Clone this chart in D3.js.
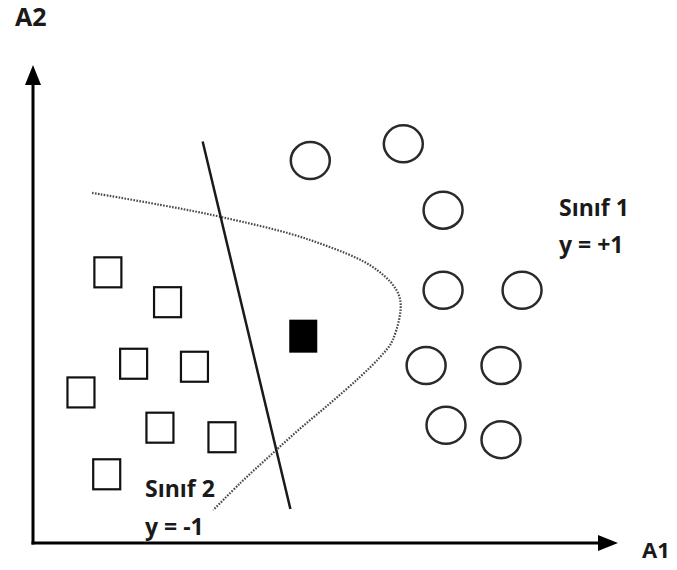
<!DOCTYPE html>
<html>
  <head>
    <script src="https://d3js.org/d3.v7.min.js"></script>
    <style>
      body { margin: 0; background: #fff; }
      .lbl { font-family: "Open Sans", "Noto Sans", sans-serif; font-weight: bold; fill: #1a1a1a; }
    </style>
  </head>
  <body>
    <svg id="my_dataviz" width="677" height="570"></svg>
    <script>
      // class -1 points (squares), in A1/A2 units
      const squareA1 = [1.28, 2.30, 1.72, 2.76, 0.82, 2.17, 3.23, 1.26];
      const squareA2 = [4.53, 4.03, 3.00, 2.95, 2.52, 1.93, 1.77, 1.15];
      // class +1 points (circles)
      const circleA1 = [4.74, 6.33, 7.01, 7.01, 8.36, 6.72, 8.00, 7.06, 8.00];
      const circleA2 = [6.40, 6.68, 5.57, 4.23, 4.23, 2.97, 2.97, 1.97, 1.73];
      // unknown sample
      const newA1 = [4.62];
      const newA2 = [3.47];
      // linear separator end points
      const lineA1 = [2.90, 4.40];
      const lineA2 = [6.72, 0.57];
      // non-linear (dotted) boundary
      const curveA1 = [1.01, 2.17, 3.20, 4.74, 5.88, 6.27, 6.15, 5.93, 5.59, 5.08, 4.56, 4.05, 3.54, 3.08];
      const curveA2 = [5.86, 5.66, 5.46, 5.07, 4.57, 4.10, 3.40, 3.11, 2.78, 2.34, 1.91, 1.46, 1.00, 0.55];
      const axisNames = ["A1", "A2"];
      const classNames = ["Sınıf 1", "y = +1", "Sınıf 2", "y = -1"];

      const svg = d3.select("#my_dataviz");

      let x = d3.scaleLinear().domain([0, 10]).range([33, 618]);
      let y = d3.scaleLinear().domain([0, 8]).range([543, 65]);

      // axes with arrow heads
      svg.append("line")
        .attr("x1", x(0)).attr("y1", y(0) + 1.5)
        .attr("x2", x(0)).attr("y2", y(8) + 16)
        .attr("stroke", "#000").attr("stroke-width", 3);
      svg.append("line")
        .attr("x1", x(0) - 1.5).attr("y1", y(0))
        .attr("x2", x(10) - 16).attr("y2", y(0))
        .attr("stroke", "#000").attr("stroke-width", 3);
      svg.append("path")
        .attr("d", `M${x(0)},${y(8)} L${x(0) - 8},${y(8) + 20} L${x(0) + 8},${y(8) + 20} Z`)
        .attr("fill", "#000");
      svg.append("path")
        .attr("d", `M${x(10)},${y(0)} L${x(10) - 20},${y(0) - 8} L${x(10) - 20},${y(0) + 8} Z`)
        .attr("fill", "#000");

      svg.append("text").attr("class", "lbl")
        .attr("x", 15).attr("y", 26)
        .style("font-size", "25px")
        .text(axisNames[1]);
      svg.append("text").attr("class", "lbl")
        .attr("x", 642).attr("y", 558)
        .style("font-size", "22px")
        .text(axisNames[0]);

      // dotted boundary
      let curvePts = curveA1.map((d, i) => [x(d), y(curveA2[i])]);
      svg.append("path")
        .attr("d", d3.line().curve(d3.curveCatmullRom.alpha(0.5))(curvePts))
        .attr("fill", "none")
        .attr("stroke", "#4a4a4a")
        .attr("stroke-width", 2.2)
        .attr("stroke-dasharray", "1.6,1.4");

      // straight separator
      svg.append("line")
        .attr("x1", x(lineA1[0])).attr("y1", y(lineA2[0]))
        .attr("x2", x(lineA1[1])).attr("y2", y(lineA2[1]))
        .attr("stroke", "#1a1a1a").attr("stroke-width", 2.5);

      // squares
      svg.selectAll("rect.sq")
        .data(squareA1.map((d, i) => [d, squareA2[i]]))
        .join("rect")
          .attr("class", "sq")
          .attr("x", d => x(d[0]) - 13.5)
          .attr("y", d => y(d[1]) - 15)
          .attr("width", 27)
          .attr("height", 30)
          .attr("fill", "none")
          .attr("stroke", "#111")
          .attr("stroke-width", 2.2);

      // unknown point
      svg.selectAll("rect.new")
        .data(newA1.map((d, i) => [d, newA2[i]]))
        .join("rect")
          .attr("class", "new")
          .attr("x", d => x(d[0]) - 14)
          .attr("y", d => y(d[1]) - 16)
          .attr("width", 28)
          .attr("height", 33)
          .attr("fill", "#000");

      // circles
      svg.selectAll("ellipse")
        .data(circleA1.map((d, i) => [d, circleA2[i]]))
        .join("ellipse")
          .attr("cx", d => x(d[0]))
          .attr("cy", d => y(d[1]))
          .attr("rx", 19.5)
          .attr("ry", 18.5)
          .attr("fill", "none")
          .attr("stroke", "#2a2a2a")
          .attr("stroke-width", 2.5);

      // class labels
      const labelPos = [[559, 216], [559, 253], [145, 497], [145, 535]];
      svg.selectAll("text.cls")
        .data(classNames)
        .join("text")
          .attr("class", "lbl cls")
          .attr("x", (d, i) => labelPos[i][0])
          .attr("y", (d, i) => labelPos[i][1])
          .style("font-size", "23px")
          .text(d => d);
    </script>
  </body>
</html>
